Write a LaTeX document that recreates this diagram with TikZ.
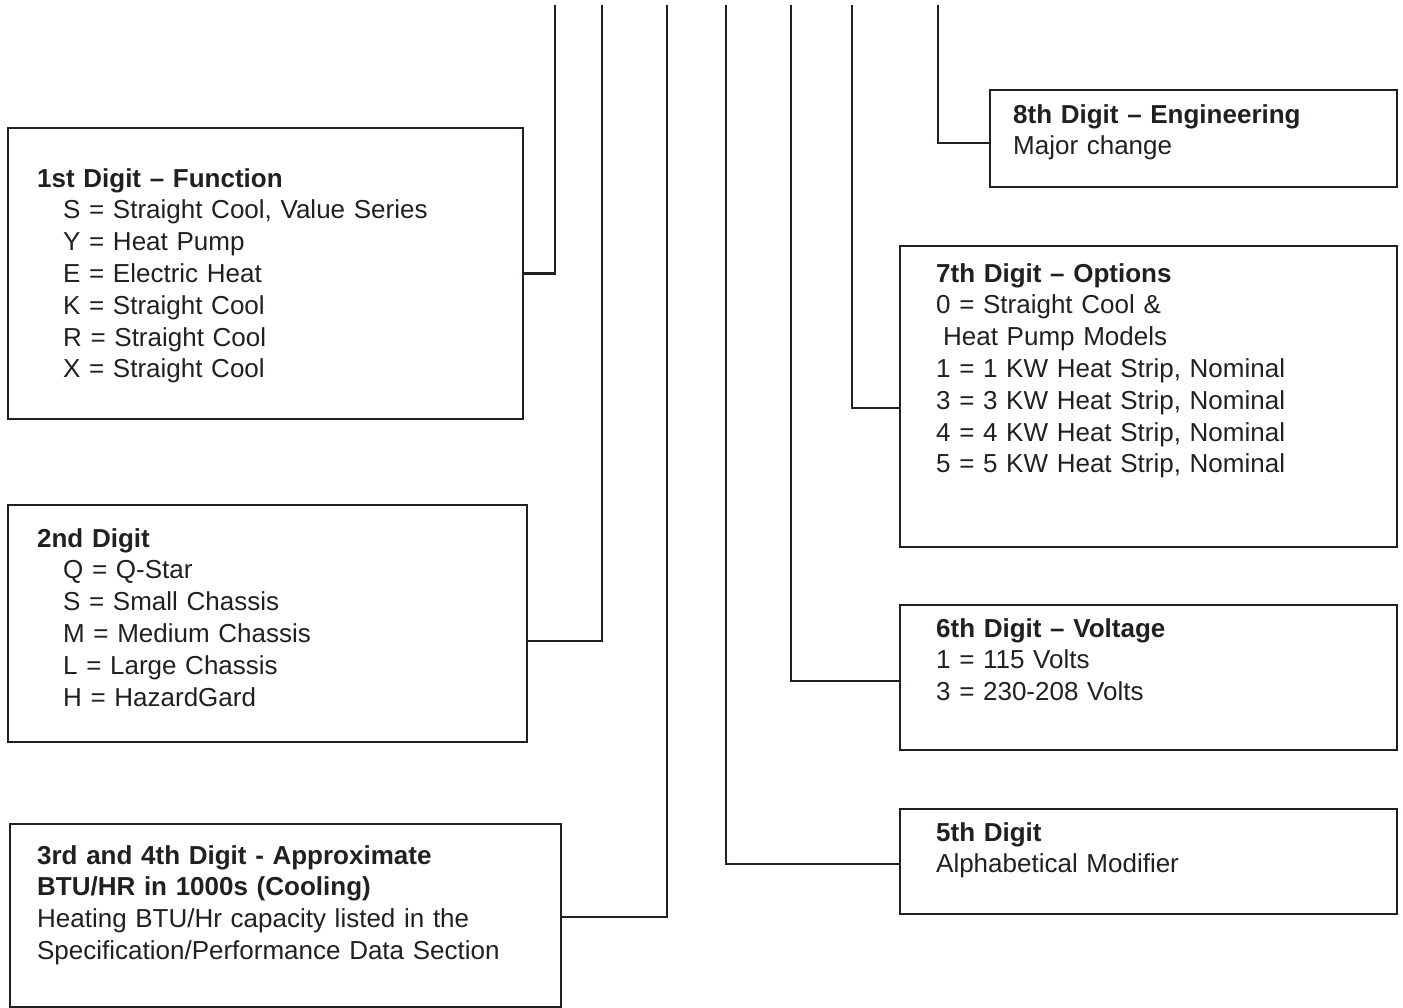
\documentclass[tikz,border=0pt]{standalone}
\usepackage{fontspec}
\setmainfont{Liberation Sans}
\usepackage{tikz}
\usetikzlibrary{calc}
\definecolor{ink}{RGB}{35,31,32}
\tikzstyle{link} = [draw=ink, line width=2.3pt]
\tikzstyle{block} = [draw=ink, rectangle, anchor=north west, align=left, inner ysep=0pt, line width=2.3pt, text=ink, font=\fontsize{26}{31.8}\selectfont]

\begin{document}
\begin{tikzpicture}[x=1pt, y=-1pt]
        \useasboundingbox (0,0) rectangle (1403,1008);
        % one line per digit, coming down from the top
        \coordinate (t1) at (555,5);
        \coordinate (t2) at (602,5);
        \coordinate (t3) at (667,5);
        \coordinate (t5) at (726,5);
        \coordinate (t6) at (791,5);
        \coordinate (t7) at (852,5);
        \coordinate (t8) at (938,5);
        % left column
        \node[block, inner xsep=29pt, text width=457pt, text height=59pt, text depth=232pt] (func) at (7,127) {\textbf{1st Digit – Function}\\
            \hspace*{26pt}S = Straight Cool, Value Series\\
            \hspace*{26pt}Y = Heat Pump\\
            \hspace*{26pt}E = Electric Heat\\
            \hspace*{26pt}K = Straight Cool\\
            \hspace*{26pt}R = Straight Cool\\
            \hspace*{26pt}X = Straight Cool};
        \node[block, inner xsep=29pt, text width=461pt, text height=42pt, text depth=195pt] (chassis) at (7,504) {\textbf{2nd Digit}\\
            \hspace*{26pt}Q = Q-Star\\
            \hspace*{26pt}S = Small Chassis\\
            \hspace*{26pt}M = Medium Chassis\\
            \hspace*{26pt}L = Large Chassis\\
            \hspace*{26pt}H = HazardGard};
        \node[block, inner xsep=27pt, text width=497pt, text height=40pt, text depth=143pt] (btu) at (9,823) {\textbf{3rd and 4th Digit - Approximate}\\
            \textbf{BTU/HR in 1000s (Cooling)}\\
            Heating BTU/Hr capacity listed in the\\
            Specification/Performance Data Section};
        % right column
        \node[block, inner xsep=23pt, text width=361pt, text height=33pt, text depth=64pt] (engr) at (989,89) {\textbf{8th Digit – Engineering}\\
            Major change};
        \node[block, inner xsep=36pt, text width=425pt, text height=36pt, text depth=265pt] (opts) at (899,245) {\textbf{7th Digit – Options}\\
            0 = Straight Cool \&\\
            \hspace*{7pt}Heat Pump Models\\
            1 = 1 KW Heat Strip, Nominal\\
            3 = 3 KW Heat Strip, Nominal\\
            4 = 4 KW Heat Strip, Nominal\\
            5 = 5 KW Heat Strip, Nominal};
        \node[block, inner xsep=36pt, text width=425pt, text height=32pt, text depth=113pt] (volt) at (899,604) {\textbf{6th Digit – Voltage}\\
            1 = 115 Volts\\
            3 = 230-208 Volts};
        \node[block, inner xsep=36pt, text width=425pt, text height=32pt, text depth=73pt] (modif) at (899,808) {\textbf{5th Digit}\\
            Alphabetical Modifier};
        % connectors
        \path[link] (t1) |- (func.east);
        \path[link] (t2) |- ([yshift=-17.5pt]chassis.east);
        \path[link] (t3) |- ([yshift=-1.5pt]btu.east);
        \path[link] (t5) |- ([yshift=-2.5pt]modif.west);
        \path[link] (t6) |- ([yshift=-3.5pt]volt.west);
        \path[link] (t7) |- ([yshift=-11.5pt]opts.west);
        \path[link] (t8) |- ([yshift=-4.5pt]engr.west);
    \end{tikzpicture}
\end{document}
